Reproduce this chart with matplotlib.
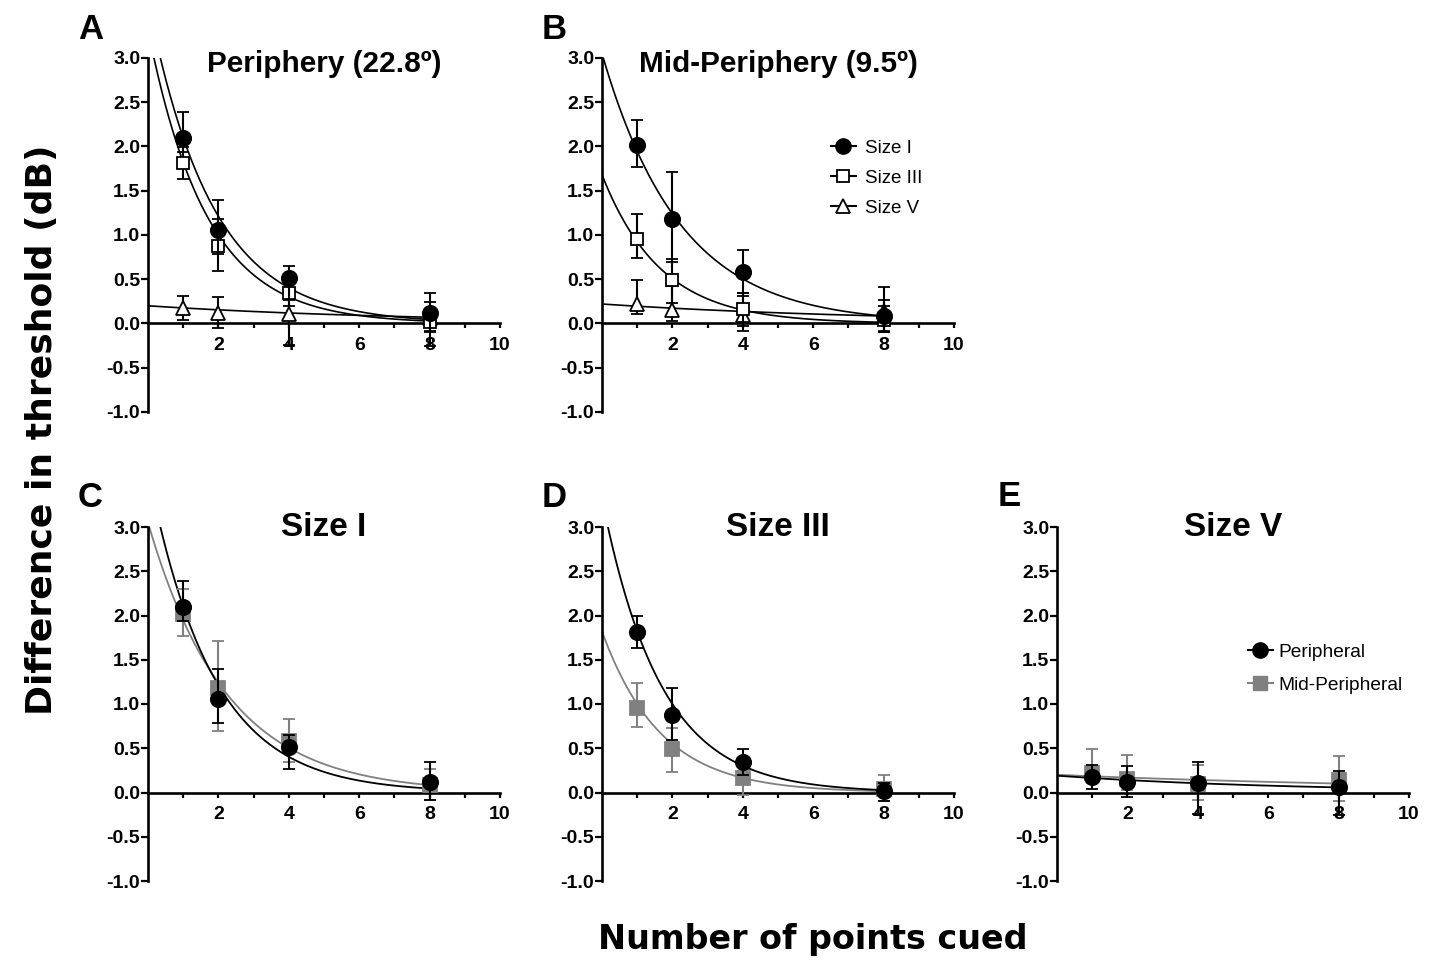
import numpy as np
import matplotlib
matplotlib.use("Agg")
import matplotlib.pyplot as plt
from matplotlib.lines import Line2D
from matplotlib.ticker import FixedLocator, FormatStrFormatter

plt.rcParams['font.family'] = ['Liberation Sans', 'DejaVu Sans']
plt.rcParams['axes.unicode_minus'] = False

# ---------------- data ----------------
points_cued = [1, 2, 4, 8]

# Peripheral (22.8 deg)
per_I_mean = [2.10, 1.06, 0.51, 0.12]
per_I_hi = [2.39, 1.40, 0.65, 0.35]
per_I_lo = [1.94, 0.78, 0.26, -0.08]

per_III_mean = [1.81, 0.88, 0.34, 0.02]
per_III_hi = [1.99, 1.18, 0.49, 0.11]
per_III_lo = [1.63, 0.59, 0.20, -0.10]

per_V_mean = [0.17, 0.12, 0.11, 0.06]
per_V_hi = [0.31, 0.30, 0.34, 0.24]
per_V_lo = [0.04, -0.05, -0.24, -0.25]

# Mid-peripheral (9.5 deg)
mid_I_mean = [2.02, 1.18, 0.58, 0.08]
mid_I_hi = [2.30, 1.71, 0.83, 0.27]
mid_I_lo = [1.77, 0.70, 0.35, -0.09]

mid_III_mean = [0.96, 0.49, 0.16, 0.04]
mid_III_hi = [1.24, 0.73, 0.34, 0.20]
mid_III_lo = [0.74, 0.23, -0.03, -0.10]

mid_V_mean = [0.22, 0.15, 0.10, 0.14]
mid_V_hi = [0.49, 0.42, 0.31, 0.41]
mid_V_lo = [0.11, 0.03, -0.08, -0.10]

# one-phase exponential decay fits: (start value Y0, rate k)
fitA = {'I': (3.64, 0.55), 'III': (3.32, 0.60), 'V': (0.20, 0.13)}
fitB = {'I': (3.05, 0.45), 'III': (1.68, 0.60), 'V': (0.22, 0.12)}
fitC = {'per': (3.64, 0.55), 'mid': (3.05, 0.45)}
fitD = {'per': (3.32, 0.60), 'mid': (1.82, 0.60)}
fitE = {'per': (0.19, 0.15), 'mid': (0.20, 0.085)}

panel_titles = ['Periphery (22.8º)', 'Mid-Periphery (9.5º)', 'Size I', 'Size III', 'Size V']
panel_letters = ['A', 'B', 'C', 'D', 'E']
y_ticks = [-1.0, -0.5, 0.0, 0.5, 1.0, 1.5, 2.0, 2.5, 3.0]
x_major = [2, 4, 6, 8, 10]
x_minor = [1, 3, 5, 7, 9]

GRAY = '#808080'
BIG = ['DejaVu Sans']

# ---------------- figure ----------------
W, H = 1435, 961
fig = plt.figure(figsize=(W / 100, H / 100), dpi=100)


def px_axes(left, top, right, bottom):
    return fig.add_axes([left / W, 1 - bottom / H, (right - left) / W, (bottom - top) / H])


axA = px_axes(148, 58, 500, 412)
axB = px_axes(602, 58, 954, 412)
axC = px_axes(148, 527, 500, 881)
axD = px_axes(602, 527, 954, 881)
axE = px_axes(1057, 527, 1409, 881)
axes = [axA, axB, axC, axD, axE]


def style(ax):
    ax.set_xlim(0, 10)
    ax.set_ylim(-1, 3)
    for s in ['top', 'right']:
        ax.spines[s].set_visible(False)
    ax.spines['bottom'].set_position(('data', 0))
    ax.spines['left'].set_linewidth(1.9)
    ax.spines['bottom'].set_linewidth(1.9)
    ax.xaxis.set_major_locator(FixedLocator(x_major))
    ax.xaxis.set_minor_locator(FixedLocator(x_minor))
    ax.yaxis.set_major_locator(FixedLocator(y_ticks))
    ax.yaxis.set_major_formatter(FormatStrFormatter('%.1f'))
    ax.tick_params(axis='y', which='major', length=5, width=1.6, pad=0.5,
                   labelsize=14)
    ax.tick_params(axis='x', which='both', length=3.5, width=1.6, pad=6,
                   labelsize=14, direction='out')
    for lab in ax.get_xticklabels() + ax.get_yticklabels():
        lab.set_fontweight('bold')
    ax.patch.set_alpha(0)


def decay(params, xs):
    y0, k = params
    return y0 * np.exp(-k * xs)


xs = np.linspace(0, 8, 400)
xarr = np.array(points_cued, dtype=float)


def eb(ax, mean, hi, lo, marker, color, face, ms, z):
    mean = np.array(mean)
    yerr = [mean - np.array(lo), np.array(hi) - mean]
    ax.errorbar(xarr, mean, yerr=yerr, fmt=marker, color=color, mfc=face, mec=color,
                ms=ms, mew=1.3, elinewidth=1.5, capsize=4.5, capthick=1.5,
                zorder=z, clip_on=False)


# Panel A
for key, mean, hi, lo, m, face, ms, z in [
        ('V', per_V_mean, per_V_hi, per_V_lo, '^', 'white', 10, 3),
        ('III', per_III_mean, per_III_hi, per_III_lo, 's', 'white', 9, 4),
        ('I', per_I_mean, per_I_hi, per_I_lo, 'o', 'black', 11, 5)]:
    axA.plot(xs, decay(fitA[key], xs), color='black', lw=1.2, zorder=2)
    eb(axA, mean, hi, lo, m, 'black', face, ms, z)

# Panel B
for key, mean, hi, lo, m, face, ms, z in [
        ('V', mid_V_mean, mid_V_hi, mid_V_lo, '^', 'white', 10, 3),
        ('III', mid_III_mean, mid_III_hi, mid_III_lo, 's', 'white', 9, 4),
        ('I', mid_I_mean, mid_I_hi, mid_I_lo, 'o', 'black', 11, 5)]:
    axB.plot(xs, decay(fitB[key], xs), color='black', lw=1.2, zorder=2)
    eb(axB, mean, hi, lo, m, 'black', face, ms, z)

# Panels C, D, E
for ax, fit, pm, ph, pl, mm, mh, ml in [
        (axC, fitC, per_I_mean, per_I_hi, per_I_lo, mid_I_mean, mid_I_hi, mid_I_lo),
        (axD, fitD, per_III_mean, per_III_hi, per_III_lo, mid_III_mean, mid_III_hi, mid_III_lo),
        (axE, fitE, per_V_mean, per_V_hi, per_V_lo, mid_V_mean, mid_V_hi, mid_V_lo)]:
    ax.plot(xs, decay(fit['mid'], xs), color=GRAY, lw=1.3, zorder=2)
    ax.plot(xs, decay(fit['per'], xs), color='black', lw=1.3, zorder=2)
    eb(ax, mm, mh, ml, 's', GRAY, GRAY, 10, 3)
    eb(ax, pm, ph, pl, 'o', 'black', 'black', 11, 5)

for ax in axes:
    style(ax)

# titles
for i, (ax, t) in enumerate(zip(axes, panel_titles)):
    top_row = i < 2
    top = 58 if top_row else 527
    base = 72 if top_row else 536
    ax.text(0.5, 1 - (base - top) / 354, t, transform=ax.transAxes, ha='center',
            va='baseline', fontsize=21.4 if top_row else 24, fontweight='bold')

# panel letters
for letter, (lx, by) in zip(panel_letters, [(78, 39), (542, 39), (78, 507), (542, 507), (998, 506)]):
    fig.text(lx / W, 1 - by / H, letter, ha='left', va='baseline', fontsize=25,
             fontweight='bold')

# legends
hB = [Line2D([], [], color='black', marker='o', ms=11, mfc='black', lw=1.5),
      Line2D([], [], color='black', marker='s', ms=9, mfc='white', mew=1.3, lw=1.5),
      Line2D([], [], color='black', marker='^', ms=10, mfc='white', mew=1.3, lw=1.5)]
axB.legend(hB, ['Size I', 'Size III', 'Size V'], loc='upper left',
           bbox_to_anchor=(0.63, 0.79), frameon=False, fontsize=13.5,
           handlelength=1.3, handletextpad=0.5, labelspacing=0.68, borderaxespad=0)

hE = [Line2D([], [], color='black', marker='o', ms=11, mfc='black', lw=1.5),
      Line2D([], [], color=GRAY, marker='s', ms=10, mfc=GRAY, lw=1.5)]
axE.legend(hE, ['Peripheral', 'Mid-Peripheral'], loc='upper left',
           bbox_to_anchor=(0.52, 0.692), frameon=False, fontsize=13.8,
           handlelength=1.3, handletextpad=0.3, labelspacing=0.8, borderaxespad=0)

# shared axis labels
fig.text(42 / W, 1 - 430 / H, 'Difference in threshold (dB)', rotation=90,
         ha='center', va='center', fontsize=26, fontweight='bold', family=BIG)
fig.text(813 / W, 1 - 940 / H, 'Number of points cued', ha='center', va='center',
         fontsize=24, fontweight='bold', family=BIG)

fig.savefig('out.png', dpi=100)
